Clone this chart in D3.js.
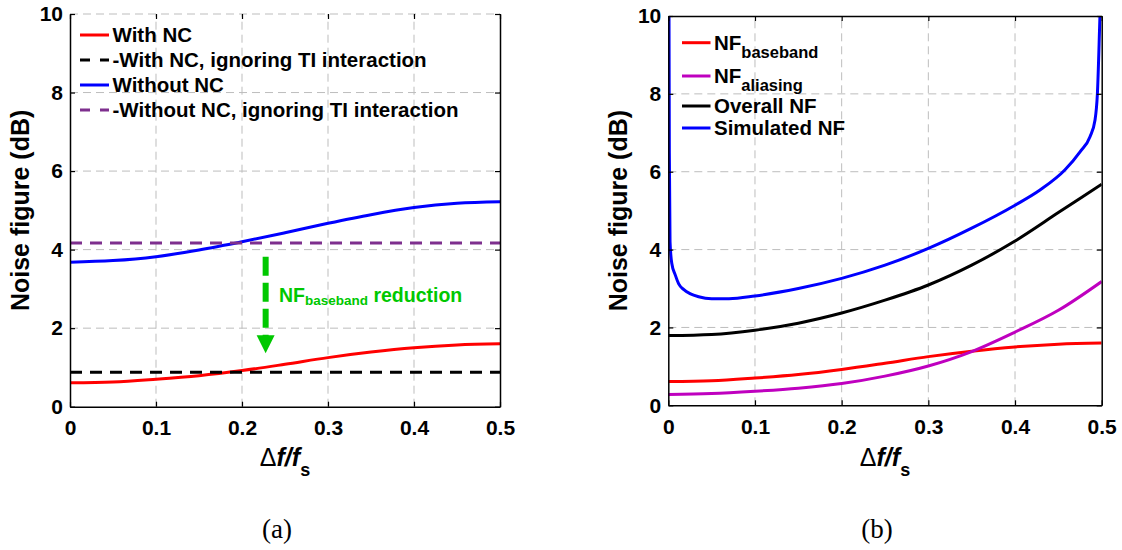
<!DOCTYPE html>
<html>
<head>
<meta charset="utf-8">
<script src="https://cdn.jsdelivr.net/npm/d3@7"></script>
<style>
  body { margin: 0; background: #fff; }
  svg { display: block; }
  text { font-family: "Liberation Sans", Arial, Helvetica, sans-serif; font-weight: bold; }
</style>
</head>
<body>
<svg id="chart" width="1122" height="550"></svg>
<script>
// Δf/fs sample points
const fracs = [0, 0.05, 0.1, 0.15, 0.2, 0.25, 0.3, 0.35, 0.4, 0.45, 0.5];

// (a) noise figure in dB
const nfWithNC = [0.61, 0.63, 0.70, 0.79, 0.92, 1.08, 1.25, 1.39, 1.50, 1.57, 1.60];
const nfWithNCIgnoringTI = 0.88;
const nfWithoutNC = [3.68, 3.72, 3.82, 3.99, 4.20, 4.43, 4.67, 4.89, 5.07, 5.18, 5.22];
const nfWithoutNCIgnoringTI = 4.17;

// (b) noise figure in dB
const nfBaseband = nfWithNC;
const nfAliasing = [0.28, 0.30, 0.36, 0.44, 0.56, 0.75, 1.01, 1.38, 1.88, 2.44, 3.18];
const nfOverall = [1.79, 1.82, 1.93, 2.11, 2.37, 2.70, 3.09, 3.60, 4.22, 4.95, 5.68];
const simFracs = [0.0008, 0.0012, 0.002, 0.004, 0.008, 0.012, 0.018, 0.025, 0.035, 0.05, 0.07,
                  0.1, 0.15, 0.2, 0.25, 0.3, 0.35, 0.4, 0.4288, 0.4577, 0.475, 0.4865,
                  0.4923, 0.495, 0.498, 0.4995];
const nfSimulated = [10.2, 6.5, 4.2, 3.65, 3.35, 3.12, 2.97, 2.87, 2.79, 2.74, 2.74,
                     2.81, 3.0, 3.26, 3.6, 4.03, 4.55, 5.14, 5.53, 6.05, 6.51, 6.9,
                     7.33, 7.99, 10.0, 11.0];

const xTicks = [0, 0.1, 0.2, 0.3, 0.4, 0.5];
const yTicks = [0, 2, 4, 6, 8, 10];

// arrow annotation in (a)
const arrowX = 0.2275, arrowFrom = 3.82, arrowTo = 1.36;

const svg = d3.select("#chart");
const GREEN = "#00c800";

function makePanel(x0, x1, yBot, yTop, id, topBox) {
  const x = d3.scaleLinear().domain([0, 0.5]).range([x0, x1]);
  const y = d3.scaleLinear().domain([0, 10]).range([yBot, yTop]);
  const g = svg.append("g");

  // grid
  const grid = g.append("g").attr("stroke", "#bdbdbd").attr("stroke-width", 1).attr("stroke-dasharray", "8,5");
  grid.selectAll(".gx").data(xTicks.slice(1, -1)).join("line")
    .attr("x1", d => x(d)).attr("x2", d => x(d)).attr("y1", y(0)).attr("y2", y(10));
  grid.selectAll(".gy").data(topBox ? yTicks.slice(1, -1) : yTicks.slice(1)).join("line")
    .attr("y1", d => y(d)).attr("y2", d => y(d)).attr("x1", x(0)).attr("x2", x(0.5));

  svg.append("clipPath").attr("id", id).append("rect")
    .attr("x", x0).attr("y", yTop).attr("width", x1 - x0).attr("height", yBot - yTop);
  const plot = g.append("g").attr("clip-path", `url(#${id})`);
  return { g, plot, x, y, topBox };
}

function drawAxes(p, label) {
  const { g, x, y } = p;
  const bottom = g.append("g").attr("transform", `translate(0,${y(0)})`)
    .call(d3.axisBottom(x).tickValues(xTicks).tickSizeInner(-5).tickSizeOuter(0).tickFormat(d3.format("~g")))
    .attr("font-size", 21);
  bottom.selectAll("text").attr("y", 28.5).attr("dy", null).attr("fill", "#000");

  const left = g.append("g").attr("transform", `translate(${x(0)},0)`)
    .call(d3.axisLeft(y).tickValues(yTicks).tickSizeInner(-5).tickSizeOuter(0).tickPadding(7))
    .attr("font-size", 21);
  left.selectAll("text").attr("fill", "#000");

  g.append("g").attr("transform", `translate(${x(0.5)},0)`)
    .call(d3.axisRight(y).tickValues(yTicks).tickSizeInner(-5).tickSizeOuter(0).tickFormat(""));
  const top = g.append("g").attr("transform", `translate(0,${y(10)})`)
    .call(d3.axisTop(x).tickValues(xTicks).tickSizeInner(-5).tickSizeOuter(0).tickFormat(""));
  if (!p.topBox) top.select(".domain").remove();

  g.selectAll(".domain").attr("stroke", "#000").attr("stroke-width", 1.5);
  g.selectAll(".tick line").attr("stroke", "#000").attr("stroke-width", 1.2);

  // x label
  const cx = (x(0) + x(0.5)) / 2;
  const xl = g.append("text").attr("x", cx).attr("y", 466).attr("text-anchor", "middle").attr("font-size", 25);
  xl.append("tspan").style("font-weight", "normal").text("Δ");
  xl.append("tspan").attr("font-style", "italic").text("f/f");
  xl.append("tspan").attr("font-size", 18).attr("dy", 10).text("s");

  // y label
  const cy = (y(0) + y(10)) / 2;
  g.append("text").attr("transform", `translate(${x(0) - 41.5},${cy}) rotate(-90)`)
    .attr("text-anchor", "middle").attr("font-size", 25).text("Noise figure (dB)");

  // caption
  svg.append("text").attr("x", cx - 8).attr("y", 538).attr("text-anchor", "middle")
    .attr("font-size", 27)
    .style("font-weight", "normal")
    .style("font-family", "'Liberation Serif', 'Times New Roman', serif").text(label);
}

function drawCurve(p, xs, ys, color, dash) {
  const line = d3.line().x((d, i) => p.x(xs[i])).y(d => p.y(d)).curve(d3.curveMonotoneX);
  p.plot.append("path").datum(ys).attr("d", line).attr("fill", "none")
    .attr("stroke", color).attr("stroke-width", 3).attr("stroke-dasharray", dash || null);
}

function drawFlat(p, v, color) {
  p.plot.append("line").attr("x1", p.x(0)).attr("x2", p.x(0.5)).attr("y1", p.y(v)).attr("y2", p.y(v))
    .attr("stroke", color).attr("stroke-width", 3).attr("stroke-dasharray", "12,8");
}

function drawLegend(g, items, lx0, lx1) {
  items.forEach(it => {
    g.append("line").attr("x1", lx0).attr("x2", lx1).attr("y1", it.y).attr("y2", it.y)
      .attr("stroke", it.color).attr("stroke-width", 3).attr("stroke-dasharray", it.dash || null);
    const t = g.append("text").attr("x", lx1 + 3.5).attr("y", it.y + 6.8).attr("font-size", 20.5);
    it.parts.forEach(pt => {
      if (pt.sub) t.append("tspan").attr("font-size", 16.5).attr("dy", 8).text(pt.t);
      else t.append("tspan").text(pt.t);
    });
  });
}

// ---------- (a) ----------
const pa = makePanel(70, 500, 406.7, 14, "clipA", false);
drawCurve(pa, fracs, nfWithNC, "#ff0000");
drawFlat(pa, nfWithNCIgnoringTI, "#000000");
drawCurve(pa, fracs, nfWithoutNC, "#0000ff");
drawFlat(pa, nfWithoutNCIgnoringTI, "#7e2f8e");

// arrow
pa.g.append("line").attr("x1", pa.x(arrowX)).attr("x2", pa.x(arrowX))
  .attr("y1", pa.y(arrowFrom)).attr("y2", pa.y(arrowTo) - 17)
  .attr("stroke", GREEN).attr("stroke-width", 6).attr("stroke-dasharray", "19,7");
const ax = pa.x(arrowX), ay = pa.y(arrowTo);
pa.g.append("path").attr("d", `M${ax - 9},${ay - 18}L${ax + 9},${ay - 18}L${ax},${ay}Z`).attr("fill", GREEN);
const note = pa.g.append("text").attr("x", pa.x(0.243)).attr("y", pa.y(2.67)).attr("font-size", 19.5).attr("fill", GREEN);
note.append("tspan").text("NF");
note.append("tspan").attr("font-size", 13.5).attr("dy", 3).text("baseband");
note.append("tspan").attr("dy", -3).text(" reduction");

drawAxes(pa, "(a)");
drawLegend(pa.g, [
  { y: 35, color: "#ff0000", parts: [{ t: "With NC" }] },
  { y: 60, color: "#000000", dash: "10,10", parts: [{ t: "-With NC, ignoring TI interaction" }] },
  { y: 85, color: "#0000ff", parts: [{ t: "Without NC" }] },
  { y: 110, color: "#7e2f8e", dash: "10,10", parts: [{ t: "-Without NC, ignoring TI interaction" }] }
], 80, 109);

// ---------- (b) ----------
const pb = makePanel(668.3, 1101.7, 405.3, 16, "clipB", true);
drawCurve(pb, fracs, nfBaseband, "#ff0000");
drawCurve(pb, fracs, nfAliasing, "#bf00bf");
drawCurve(pb, fracs, nfOverall, "#000000");
drawCurve(pb, simFracs, nfSimulated, "#0000ff");

drawAxes(pb, "(b)");
drawLegend(pb.g, [
  { y: 42.7, color: "#ff0000", parts: [{ t: "NF" }, { t: "baseband", sub: true }] },
  { y: 76, color: "#bf00bf", parts: [{ t: "NF" }, { t: "aliasing", sub: true }] },
  { y: 106, color: "#000000", parts: [{ t: "Overall NF" }] },
  { y: 128, color: "#0000ff", parts: [{ t: "Simulated NF" }] }
], 682, 710.5);
</script>
</body>
</html>
